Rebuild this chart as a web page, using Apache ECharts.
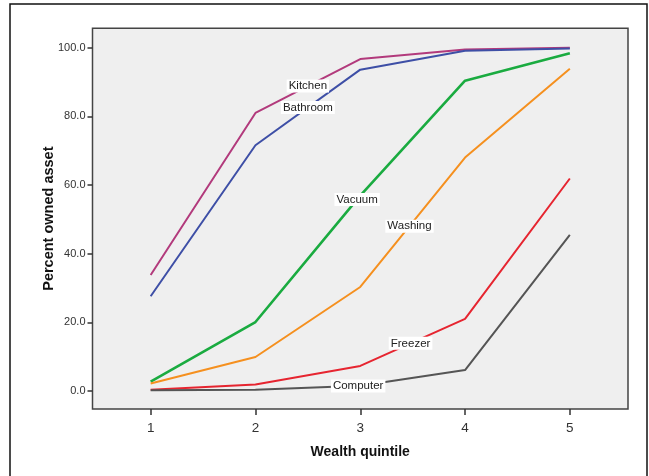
<!DOCTYPE html>
<html>
<head>
<meta charset="utf-8">
<script src="https://cdn.jsdelivr.net/npm/echarts@6/dist/echarts.min.js"></script>
<style>html,body{margin:0;padding:0;background:#fff;}#c{width:649px;height:476px;}</style>
</head>
<body>
<div id="c"></div>
<script>
var quintiles = [1, 2, 3, 4, 5];
var yTicks = [0, 20, 40, 60, 80, 100];
var kitchen  = [33.8, 81.0, 96.7, 99.5, 100.0];
var bathroom = [27.6, 71.6, 93.6, 99.1, 99.8];
var vacuum   = [2.7, 20.1, 56.9, 90.4, 98.4];
var washing  = [2.2, 9.9, 30.3, 68.0, 93.9];
var freezer  = [0.4, 1.9, 7.3, 21.0, 61.9];
var computer = [0.2, 0.4, 1.5, 6.1, 45.5];
var names  = ['Kitchen', 'Bathroom', 'Vacuum', 'Washing', 'Freezer', 'Computer'];
var labelAt = [2.5, 2.5, 2.97, 3.47, 3.48, 2.98];

var values = [kitchen, bathroom, vacuum, washing, freezer, computer];
var colors = ['#b23a7c', '#3e4fa6', '#1aab40', '#f5901f', '#e62530', '#555555'];
var widths = [2, 2, 2.6, 2, 2, 2];

function interp(arr, x) {
  var i = Math.min(Math.floor(x) - 1, arr.length - 2);
  var t = x - (i + 1);
  return arr[i] + (arr[i + 1] - arr[i]) * t;
}

var series = values.map(function (arr, k) {
  return {
    name: names[k],
    type: 'line',
    data: arr.map(function (v, i) { return [quintiles[i], v]; }),
    symbol: 'none',
    lineStyle: { color: colors[k], width: widths[k] },
    itemStyle: { color: colors[k] },
    z: 5,
    markPoint: {
      z: 50,
      symbol: 'rect',
      symbolSize: 1,
      itemStyle: { color: 'rgba(0,0,0,0)' },
      silent: true,
      label: {
        show: true, position: 'inside', formatter: names[k],
        color: '#222', fontFamily: 'Liberation Sans, Arial', fontSize: 11.5,
        backgroundColor: '#ffffff', padding: [1, 2, 0, 2]
      },
      data: [{ coord: [labelAt[k], interp(arr, labelAt[k])] }]
    }
  };
});

var chart = echarts.init(document.getElementById('c'));
chart.setOption({
  animation: false,
  backgroundColor: '#ffffff',
  grid: {
    left: 92.5, top: 28.3, right: 21, bottom: 67,
    show: true, backgroundColor: '#efefef', borderColor: '#444', borderWidth: 1.5
  },
  xAxis: {
    type: 'value', min: 0.445, max: 5.555,
    name: 'Wealth quintile', nameLocation: 'middle', nameGap: 36, nameMoveOverlap: false,
    nameTextStyle: { fontFamily: 'Liberation Sans, Arial', fontWeight: 'bold', fontSize: 14, color: '#111' },
    axisLine: { show: false, onZero: false },
    splitLine: { show: false },
    axisTick: { show: true, inside: false, length: 6, lineStyle: { color: '#333', width: 1.5 }, customValues: quintiles },
    axisLabel: { color: '#333', fontFamily: 'Liberation Sans, Arial', fontSize: 13.5, margin: 12, customValues: quintiles }
  },
  yAxis: {
    type: 'value', min: -5.24, max: 105.65,
    name: 'Percent owned asset', nameLocation: 'middle', nameGap: 36, nameMoveOverlap: false,
    nameTextStyle: { fontFamily: 'Liberation Sans, Arial', fontWeight: 'bold', fontSize: 14.5, color: '#111' },
    axisLine: { show: false, onZero: false },
    splitLine: { show: false },
    axisTick: { show: true, inside: false, length: 5, lineStyle: { color: '#333', width: 1.5 }, customValues: yTicks },
    axisLabel: {
      color: '#333', fontFamily: 'Liberation Sans, Arial', fontSize: 11, margin: 7, customValues: yTicks,
      formatter: function (v) { return v.toFixed(1); }
    }
  },
  graphic: [{
    type: 'rect', shape: { x: 10, y: 4, width: 637, height: 480 },
    style: { fill: 'none', stroke: '#111', lineWidth: 1.5 }, silent: true, z: 100
  }],
  series: series
});
</script>
</body>
</html>
